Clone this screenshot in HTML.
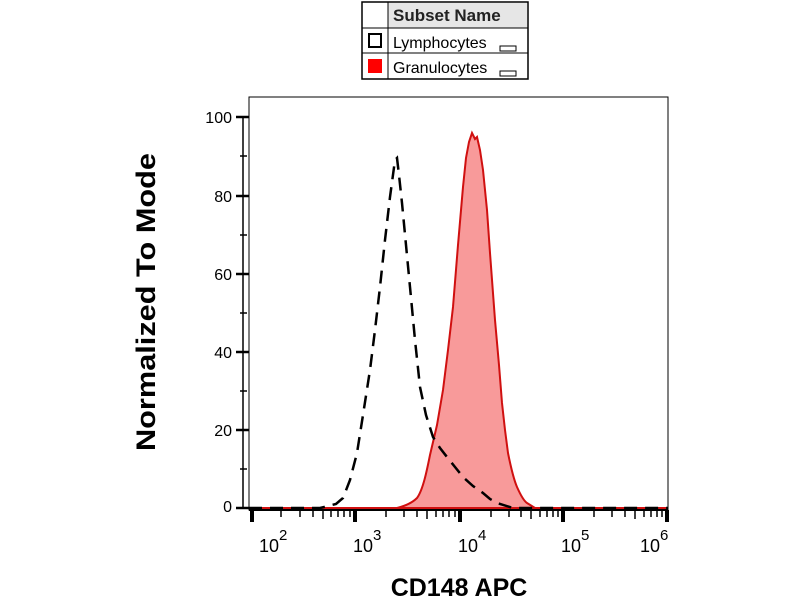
<!DOCTYPE html>
<html><head><style>body{margin:0;background:#fff;}svg{display:block;font-family:"Liberation Sans",sans-serif;}</style></head>
<body>
<svg width="800" height="600" viewBox="0 0 800 600">
<!-- legend -->
<rect x="362" y="2" width="166" height="77" fill="#fff" stroke="#000" stroke-width="1.5"/>
<rect x="388" y="3" width="139" height="25" fill="#e6e6e6"/>
<line x1="362" y1="28" x2="528" y2="28" stroke="#000"/>
<line x1="362" y1="53" x2="528" y2="53" stroke="#000"/>
<line x1="388" y1="2" x2="388" y2="79" stroke="#000"/>
<text x="393" y="21" font-size="17" font-weight="bold" fill="#222">Subset Name</text>
<rect x="369" y="34" width="12" height="13" fill="#fff" stroke="#000" stroke-width="2"/>
<text x="393" y="48" font-size="16">Lymphocytes</text>
<rect x="500" y="46" width="16" height="5" fill="#fff" stroke="#000" stroke-width="1"/>
<rect x="368" y="59" width="14" height="14" fill="#f00"/>
<text x="393" y="73" font-size="16">Granulocytes</text>
<rect x="500" y="71" width="16" height="5" fill="#fff" stroke="#000" stroke-width="1"/>
<!-- plot box -->
<rect x="249" y="97" width="419" height="413" fill="none" stroke="#000" stroke-width="1"/>
<!-- red fill -->
<path d="M249,508 L397,508 C405,506 412,503 417,498 C423,490 427,470 430,455 L437,425 L443,390 L448,350 L453,307 L458,245 L463,187 L466,158 L469,142 L472,133 L475,139 L477,137 L480,150 L483,170 L487,210 L490,253 L495,320 L499,365 L502,403 L505,430 L508,453 C511,468 514,480 517,487 C521,496 524,501 527,503 L535,508 L668,508 Z" fill="#f89a9a" stroke="#d01010" stroke-width="2"/>
<!-- dashed -->
<path d="M249,508 L320,508 L336,504 L343,498 L350,480 L357,453 L363,415 L370,370 L375,330 L380,287 L385,240 L390,197 L395,160 L397,158 L399,175 L402,203 L406,245 L410,287 L415,340 L420,387 L426,415 L433,437 L440,448 L447,457 L455,467 L463,477 L473,486 L483,493 L490,499 L497,503 L513,508 L668,508" fill="none" stroke="#000" stroke-width="2.5" stroke-dasharray="13,8"/>
<!-- y axis -->
<line x1="243" y1="117" x2="243" y2="508" stroke="#000" stroke-width="1.5"/>
<g stroke="#000" stroke-width="2.5">
<line x1="236" y1="508" x2="249" y2="508"/><line x1="236" y1="430" x2="249" y2="430"/><line x1="236" y1="352" x2="249" y2="352"/><line x1="236" y1="274" x2="249" y2="274"/><line x1="236" y1="196" x2="249" y2="196"/><line x1="236" y1="117" x2="249" y2="117"/>
</g>
<g stroke="#000" stroke-width="1.5">
<line x1="240" y1="469" x2="247" y2="469"/><line x1="240" y1="391" x2="247" y2="391"/><line x1="240" y1="313" x2="247" y2="313"/><line x1="240" y1="235" x2="247" y2="235"/><line x1="240" y1="156" x2="247" y2="156"/>
</g>
<g font-size="16" text-anchor="end">
<text x="232" y="512">0</text><text x="232" y="436">20</text><text x="232" y="358">40</text><text x="232" y="280">60</text><text x="232" y="202">80</text><text x="232" y="123">100</text>
</g>
<!-- x axis ticks -->
<line x1="249" y1="510" x2="668" y2="510" stroke="#000" stroke-width="2"/>
<g stroke="#000" stroke-width="4">
<line x1="252" y1="510" x2="252" y2="522"/><line x1="355" y1="510" x2="355" y2="522"/><line x1="460" y1="510" x2="460" y2="522"/><line x1="563" y1="510" x2="563" y2="522"/><line x1="667" y1="510" x2="667" y2="522"/>
</g>
<g stroke="#000" stroke-width="1.5">
<line x1="281" y1="510" x2="281" y2="517"/><line x1="300" y1="510" x2="300" y2="517"/><line x1="313" y1="510" x2="313" y2="517"/><line x1="323" y1="510" x2="323" y2="519"/><line x1="331" y1="510" x2="331" y2="517"/><line x1="338" y1="510" x2="338" y2="517"/><line x1="344" y1="510" x2="344" y2="517"/><line x1="350" y1="510" x2="350" y2="517"/>
<line x1="386" y1="510" x2="386" y2="517"/><line x1="404" y1="510" x2="404" y2="517"/><line x1="417" y1="510" x2="417" y2="517"/><line x1="427" y1="510" x2="427" y2="519"/><line x1="436" y1="510" x2="436" y2="517"/><line x1="443" y1="510" x2="443" y2="517"/><line x1="449" y1="510" x2="449" y2="517"/><line x1="455" y1="510" x2="455" y2="517"/>
<line x1="491" y1="510" x2="491" y2="517"/><line x1="509" y1="510" x2="509" y2="517"/><line x1="521" y1="510" x2="521" y2="517"/><line x1="531" y1="510" x2="531" y2="519"/><line x1="540" y1="510" x2="540" y2="517"/><line x1="547" y1="510" x2="547" y2="517"/><line x1="553" y1="510" x2="553" y2="517"/><line x1="558" y1="510" x2="558" y2="517"/>
<line x1="594" y1="510" x2="594" y2="517"/><line x1="612" y1="510" x2="612" y2="517"/><line x1="625" y1="510" x2="625" y2="517"/><line x1="635" y1="510" x2="635" y2="519"/><line x1="644" y1="510" x2="644" y2="517"/><line x1="651" y1="510" x2="651" y2="517"/><line x1="657" y1="510" x2="657" y2="517"/><line x1="662" y1="510" x2="662" y2="517"/>
</g>
<g font-size="18">
<text x="259" y="552">10<tspan font-size="15" dy="-12">2</tspan></text>
<text x="353" y="552">10<tspan font-size="15" dy="-12">3</tspan></text>
<text x="458" y="552">10<tspan font-size="15" dy="-12">4</tspan></text>
<text x="561" y="552">10<tspan font-size="15" dy="-12">5</tspan></text>
<text x="640" y="552">10<tspan font-size="15" dy="-12">6</tspan></text>
</g>
<text x="459" y="596" font-size="25" font-weight="bold" text-anchor="middle">CD148 APC</text>
<text transform="translate(155,302) rotate(-90)" font-size="27" font-weight="bold" text-anchor="middle" textLength="298" lengthAdjust="spacingAndGlyphs">Normalized To Mode</text>
</svg>
</body></html>
